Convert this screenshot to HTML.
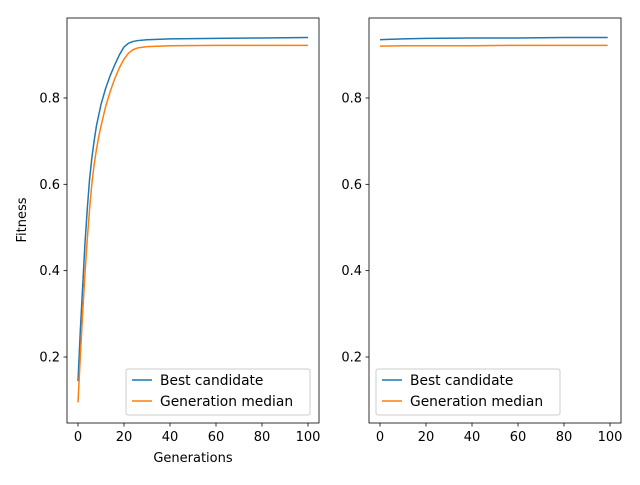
<!DOCTYPE html>
<html><head><meta charset="utf-8"><style>
body{margin:0;background:#fff;font-family:"Liberation Sans","DejaVu Sans",sans-serif}
svg text{font-family:"DejaVu Sans","Liberation Sans",sans-serif;font-size:13px;fill:#000}
svg text.lg{font-size:13.8px}
</style></head><body>
<svg id="c" width="640" height="480"></svg>
<script>
const gensL=[0,1,2,3,4,5,6,7,8,9,10,12,14,16,18,20,22,24,26,30,40,60,80,100];
const bestL=[0.144,0.26,0.36,0.46,0.54,0.61,0.66,0.70,0.735,0.76,0.785,0.822,0.852,0.877,0.9,0.918,0.927,0.931,0.933,0.935,0.937,0.938,0.939,0.94];
const medL=[0.095,0.2,0.3,0.39,0.47,0.54,0.6,0.645,0.68,0.71,0.735,0.78,0.815,0.845,0.87,0.89,0.904,0.912,0.916,0.919,0.921,0.922,0.922,0.922];
const gensR=[0,10,20,40,60,80,99];
const bestR=[0.935,0.937,0.938,0.939,0.939,0.94,0.94];
const medR=[0.92,0.921,0.921,0.921,0.922,0.922,0.922];
const xTicks=[0,20,40,60,80,100];
const yTicks=[0.2,0.4,0.6,0.8];
const NS="http://www.w3.org/2000/svg";
const svg=document.getElementById('c');
function el(t,a,p){const e=document.createElementNS(NS,t);for(const k in a)e.setAttribute(k,a[k]);(p||svg).appendChild(e);return e;}
const yv=v=>357-(v-0.2)*431.7;
function panel(x0,xs,best,med,name,labels,legOff){
  const g=el('g',{});
  
  
  const xv=v=>x0+11+v*2.3;
  const pts=(arr)=>xs.map((x,i)=>xv(x)+','+yv(arr[i])).join(' ');
  const b=el('polyline',{points:pts(best),fill:'none',stroke:'#1f77b4','stroke-width':1.5,'stroke-linejoin':'round'},g);
  
  
  const m=el('polyline',{points:pts(med),fill:'none',stroke:'#ff7f0e','stroke-width':1.5,'stroke-linejoin':'round'},g);
  
  
  const fr=el('rect',{x:x0,y:18,width:252,height:405,fill:'none',stroke:'#000','stroke-width':0.8},g);
  
  
  xTicks.forEach(t=>{const x=xv(t);el('line',{x1:x,x2:x,y1:423,y2:426.5,stroke:'#000','stroke-width':0.8},g);
    const tx=el('text',{x:x,y:441,'text-anchor':'middle'},g);tx.textContent=t;
    
    });
  yTicks.forEach(t=>{const y=yv(t);el('line',{x1:x0-3.5,x2:x0,y1:y,y2:y,stroke:'#000','stroke-width':0.8},g);
    const tx=el('text',{x:x0-7,y:y+4.5,'text-anchor':'end'},g);tx.textContent=t.toFixed(1);
    
    });
  const lg=el('g',{},g);
  
  
  const lx=x0+legOff;
  el('rect',{x:lx,y:369,width:184,height:46,rx:2,fill:'#fff','fill-opacity':0.8,stroke:'#ccc'},lg);
  el('line',{x1:lx+6,x2:lx+26,y1:380,y2:380,stroke:'#1f77b4','stroke-width':1.5},lg);
  el('line',{x1:lx+6,x2:lx+26,y1:401,y2:401,stroke:'#ff7f0e','stroke-width':1.5},lg);
  let t1=el('text',{x:lx+34,y:385,'class':'lg'},lg);t1.textContent='Best candidate';
  
  
  let t2=el('text',{x:lx+34,y:406,'class':'lg'},lg);t2.textContent='Generation median';
  
  
  if(labels){
    const xl=el('text',{x:x0+126,y:462,'text-anchor':'middle'},g);xl.textContent='Generations';
    
    
    const yl=el('text',{x:26,y:220,'text-anchor':'middle',transform:'rotate(-90 26 220)'},g);yl.textContent='Fitness';
    
    
  }
}
panel(67,gensL,bestL,medL,'left-panel',true,59);
panel(369,gensR,bestR,medR,'right-panel',false,7);
</script>
</body></html>
